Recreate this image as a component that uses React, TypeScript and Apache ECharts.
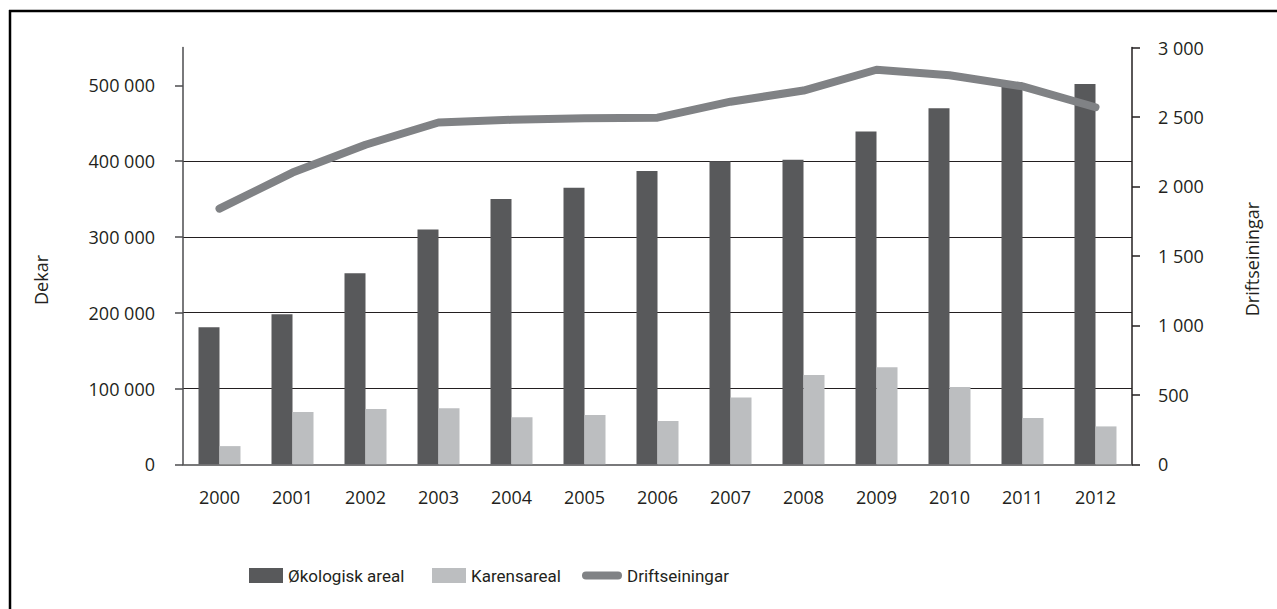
import React, { useEffect, useRef } from "react";
import * as echarts from "echarts";

const years = ["2000", "2001", "2002", "2003", "2004", "2005", "2006", "2007", "2008", "2009", "2010", "2011", "2012"];
const okologiskAreal = [181000, 198000, 252000, 310000, 350000, 365000, 387000, 400000, 402000, 439000, 470000, 504000, 502000];
const karensareal = [24000, 69000, 73000, 74000, 62000, 65000, 57000, 88000, 118000, 128000, 102000, 61000, 50000];
const driftseiningar = [1840, 2100, 2300, 2460, 2480, 2490, 2495, 2610, 2690, 2840, 2800, 2720, 2570];
const leftTicks = [0, 100000, 200000, 300000, 400000, 500000];

const fmt = (v: number) => String(v).replace(/\B(?=(\d{3})+(?!\d))/g, " ");

export default function App() {
  const ref = useRef<HTMLDivElement>(null);
  useEffect(() => {
    document.body.style.margin = "0";
    document.body.style.overflow = "hidden";
    const chart = echarts.init(ref.current!, undefined, { renderer: "svg" });
    const font = "'Open Sans', 'Noto Sans', sans-serif";
    const legendFont = "Roboto, 'Open Sans', sans-serif";
    const txt = "#231f20";
    const legendBase = {
      top: 562,
      itemWidth: 34,
      itemHeight: 15,
      textStyle: { fontFamily: legendFont, fontSize: 17, color: txt },
    };
    chart.setOption({
      animation: false,
      backgroundColor: "#ffffff",
      textStyle: { fontFamily: font },
      grid: { left: 183, right: 145, top: 47.5, bottom: 144.7, containLabel: false },
      legend: [
        { ...legendBase, left: 244, data: [{ name: "Økologisk areal", icon: "rect" }] },
        { ...legendBase, left: 427, data: [{ name: "Karensareal", icon: "rect" }] },
        {
          ...legendBase,
          left: 577,
          itemWidth: 40,
          data: [{ name: "Driftseiningar", icon: "path://M4 0H36A4 4 0 0 1 36 8H4A4 4 0 0 1 4 0Z", itemStyle: { color: "#808285" } }],
        },
      ],
      xAxis: {
        type: "category",
        data: years,
        axisLine: { lineStyle: { color: "#4d4d4f", width: 1.5 } },
        axisTick: { length: 8, lineStyle: { color: "#4d4d4f", width: 1.5 } },
        axisLabel: { margin: 24, fontSize: 18, color: txt, fontFamily: font },
      },
      yAxis: [
        {
          type: "value",
          min: 0,
          max: 550000,
          interval: 100000,
          axisLine: { show: true, lineStyle: { color: "#4d4d4f", width: 1.5 } },
          axisTick: { show: true, length: 8, customValues: leftTicks, lineStyle: { color: "#4d4d4f", width: 1.5 } },
          axisLabel: { customValues: leftTicks, margin: 28, fontSize: 18, color: txt, fontFamily: font, formatter: (v: number) => fmt(v) },
          splitLine: { show: true, showMinLine: false, showMaxLine: false, lineStyle: { color: "#231f20", width: 1.2 } },
        },
        {
          type: "value",
          min: 0,
          max: 3000,
          interval: 500,
          position: "right",
          axisLine: { show: true, lineStyle: { color: "#231f20", width: 1.5 } },
          axisTick: { show: true, length: 8, lineStyle: { color: "#231f20", width: 1.5 } },
          axisLabel: { margin: 26, fontSize: 18, color: txt, fontFamily: font, formatter: (v: number) => fmt(v) },
          splitLine: { show: false },
        },
      ],
      series: [
        {
          name: "Økologisk areal",
          type: "bar",
          data: okologiskAreal,
          barWidth: 21,
          barGap: "0%",
          itemStyle: { color: "#58595b" },
          yAxisIndex: 0,
        },
        {
          name: "Karensareal",
          type: "bar",
          data: karensareal,
          barWidth: 21,
          barGap: "0%",
          itemStyle: { color: "#bcbec0" },
          yAxisIndex: 0,
        },
        {
          name: "Driftseiningar",
          type: "line",
          data: driftseiningar,
          yAxisIndex: 1,
          symbol: "none",
          z: 5,
          itemStyle: { color: "#808285" },
          lineStyle: { color: "#808285", width: 8, cap: "round", join: "round" },
        },
      ],
      graphic: [
        {
          type: "line",
          shape: { x1: 9, y1: 11, x2: 1277, y2: 11 },
          style: { stroke: "#000000", lineWidth: 2.5 },
          silent: true,
        },
        {
          type: "line",
          shape: { x1: 10, y1: 10, x2: 10, y2: 609 },
          style: { stroke: "#000000", lineWidth: 2.5 },
          silent: true,
        },
        {
          type: "text",
          x: 41,
          y: 280,
          rotation: Math.PI / 2,
          style: { text: "Dekar", fontSize: 18, fontFamily: font, fill: txt, align: "center", verticalAlign: "middle" },
        },
        {
          type: "text",
          x: 1252,
          y: 259,
          rotation: Math.PI / 2,
          style: { text: "Driftseiningar", fontSize: 18, fontFamily: font, fill: txt, align: "center", verticalAlign: "middle" },
        },
      ],
    });
    return () => chart.dispose();
  }, []);
  return <div ref={ref} style={{ width: 1277, height: 609 }} />;
}
